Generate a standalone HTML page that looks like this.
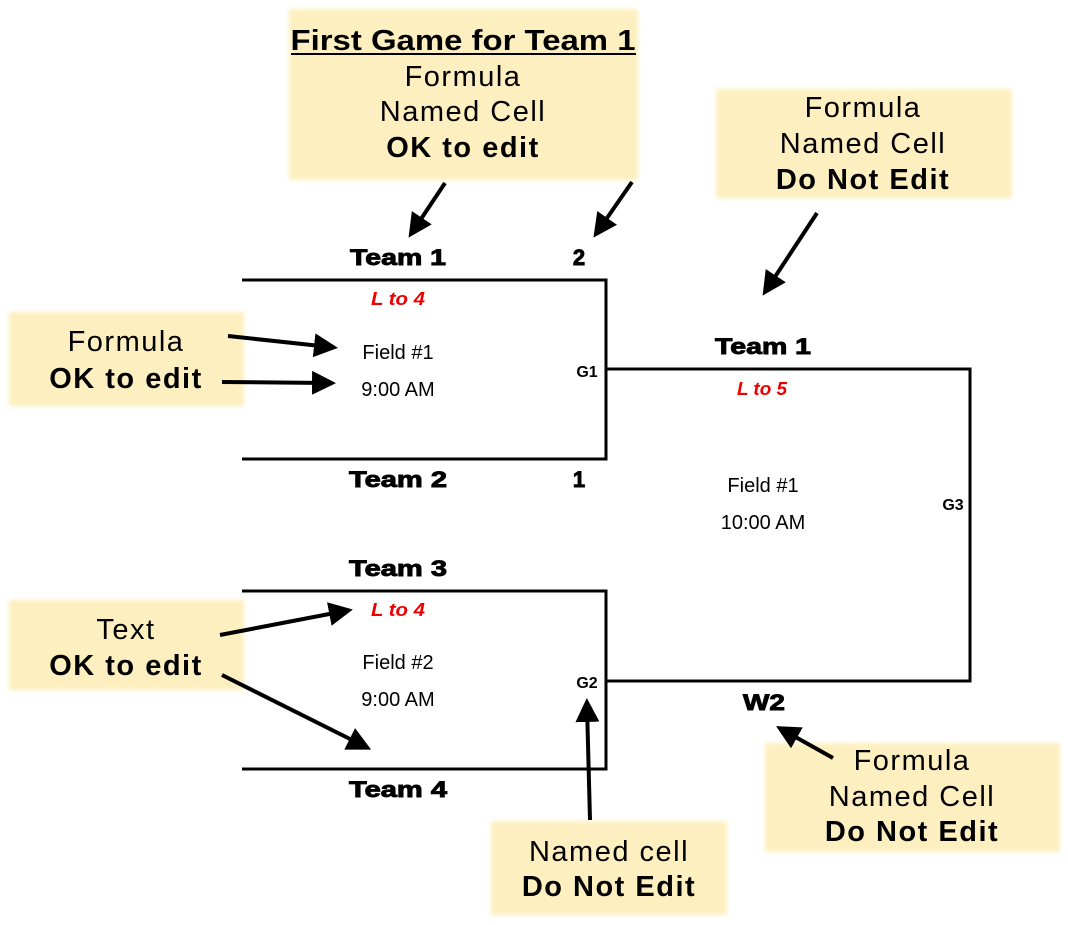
<!DOCTYPE html>
<html><head><style>
html,body{margin:0;padding:0;background:#fff;}
svg{display:block;}
.box{fill:#fdefbf;}
.t{font-family:"Liberation Sans","DejaVu Sans",sans-serif;text-anchor:middle;fill:#000;}
.bx{font-size:29px;letter-spacing:1.5px;}
.b{font-weight:bold;}
.team{font-size:22px;font-weight:bold;stroke:#000;stroke-width:0.9;}
.sm{font-size:20px;}
.red{font-size:18px;font-weight:bold;font-style:italic;fill:#e00;}
.g{font-size:16px;font-weight:bold;}
</style></head><body>
<svg width="1068" height="925" viewBox="0 0 1068 925" xmlns="http://www.w3.org/2000/svg">
<defs>
<marker id="ah" markerWidth="6" markerHeight="6" refX="4" refY="3" orient="auto" markerUnits="strokeWidth">
<path d="M0,0 L6,3 L0,6 z" fill="#000"/></marker>
<filter id="bl"><feGaussianBlur stdDeviation="2"/></filter>
</defs>
<g filter="url(#bl)">
<rect class="box" x="289" y="9" width="349" height="171"/>
<rect class="box" x="716" y="89" width="296" height="109"/>
<rect class="box" x="9" y="312" width="235" height="94"/>
<rect class="box" x="9" y="600" width="235" height="90"/>
<rect class="box" x="491" y="821" width="236" height="94"/>
<rect class="box" x="765" y="743" width="295" height="109"/>
</g>
<text class="t bx b" x="463" y="50" textLength="345" lengthAdjust="spacingAndGlyphs" style="letter-spacing:0">First Game for Team 1</text>
<line x1="291" y1="54" x2="636" y2="54" stroke="#000" stroke-width="2"/>
<text class="t bx" x="463" y="86">Formula</text>
<text class="t bx" x="463" y="121">Named Cell</text>
<text class="t bx b" x="463" y="157">OK to edit</text>

<text class="t bx" x="863" y="117">Formula</text>
<text class="t bx" x="863" y="153">Named Cell</text>
<text class="t bx b" x="863" y="189">Do Not Edit</text>

<text class="t bx" x="126" y="351">Formula</text>
<text class="t bx b" x="126" y="388">OK to edit</text>

<text class="t bx" x="126" y="639">Text</text>
<text class="t bx b" x="126" y="675">OK to edit</text>

<text class="t bx" x="609" y="861">Named cell</text>
<text class="t bx b" x="609" y="896">Do Not Edit</text>

<text class="t bx" x="912" y="770">Formula</text>
<text class="t bx" x="912" y="806">Named Cell</text>
<text class="t bx b" x="912" y="841">Do Not Edit</text>

<g stroke="#000" stroke-width="3" fill="none">
<polyline points="242,280 606,280 606,459 242,459"/>
<polyline points="606,369 970,369 970,681 606,681"/>
<polyline points="242,591 606,591 606,769 242,769"/>
</g>
<text class="t team" x="398" y="265" textLength="96" lengthAdjust="spacingAndGlyphs">Team 1</text>
<text class="t team" x="579" y="265">2</text>
<text class="t red" x="398" y="305" textLength="54" lengthAdjust="spacingAndGlyphs">L to 4</text>
<text class="t sm" x="398" y="359">Field #1</text>
<text class="t sm" x="398" y="396">9:00 AM</text>
<text class="t g" x="587" y="377">G1</text>
<text class="t team" x="398" y="487" textLength="98" lengthAdjust="spacingAndGlyphs">Team 2</text>
<text class="t team" x="579" y="487">1</text>

<text class="t team" x="763" y="354" textLength="96" lengthAdjust="spacingAndGlyphs">Team 1</text>
<text class="t red" x="762" y="395" textLength="50" lengthAdjust="spacingAndGlyphs">L to 5</text>
<text class="t sm" x="763" y="492">Field #1</text>
<text class="t sm" x="763" y="529">10:00 AM</text>
<text class="t g" x="953" y="510">G3</text>

<text class="t team" x="398" y="576" textLength="98" lengthAdjust="spacingAndGlyphs">Team 3</text>
<text class="t red" x="398" y="616" textLength="54" lengthAdjust="spacingAndGlyphs">L to 4</text>
<text class="t sm" x="398" y="669">Field #2</text>
<text class="t sm" x="398" y="706">9:00 AM</text>
<text class="t g" x="587" y="688">G2</text>
<text class="t team" x="398" y="797" textLength="98" lengthAdjust="spacingAndGlyphs">Team 4</text>
<text class="t team" x="764" y="710" textLength="42" lengthAdjust="spacingAndGlyphs">W2</text>

<g stroke="#000" stroke-width="4" marker-end="url(#ah)">
<line x1="445" y1="183" x2="413" y2="231"/>
<line x1="632" y1="182" x2="598" y2="231"/>
<line x1="817" y1="213" x2="767" y2="289"/>
<line x1="228" y1="336" x2="330" y2="347"/>
<line x1="222" y1="382" x2="328" y2="383"/>
<line x1="220" y1="635" x2="345" y2="611"/>
<line x1="222" y1="675" x2="364" y2="746"/>
<line x1="590" y1="820" x2="587" y2="706"/>
<line x1="833" y1="758" x2="783" y2="730"/>
</g>
</svg>
</body></html>
